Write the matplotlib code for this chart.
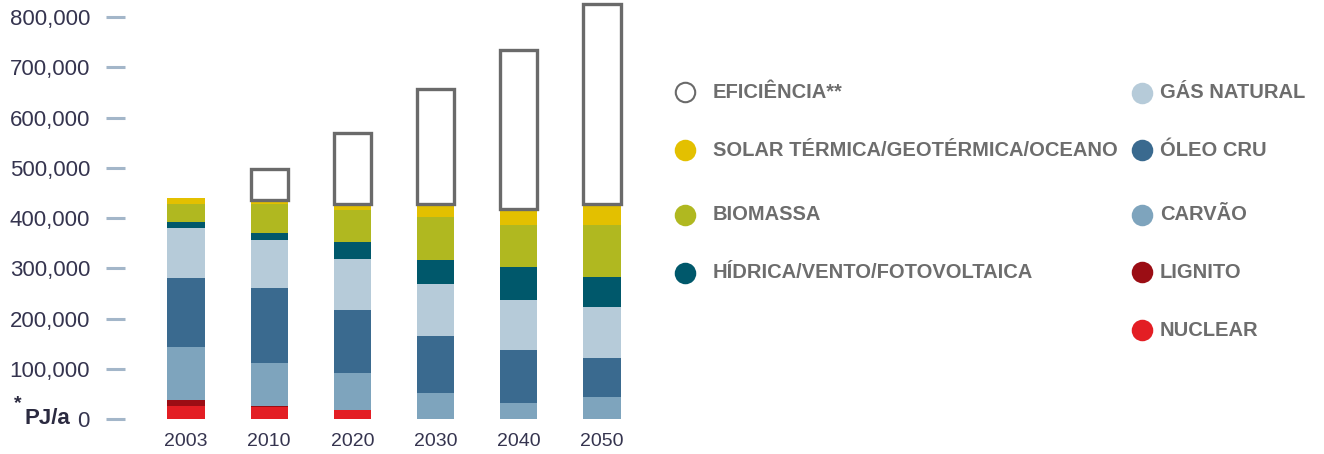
import numpy as np
import matplotlib
matplotlib.use('Agg')
import matplotlib.pyplot as plt
from matplotlib.lines import Line2D

# ── Data (PJ/a) ──────────────────────────────────────────────────────────────
years      = ['2003', '2010', '2020', '2030', '2040', '2050']
nuclear    = [26000, 24500, 18000, 0, 0, 0]
lignite    = [11000, 2000, 0, 0, 0, 0]
coal       = [107000, 85500, 73000, 52000, 31000, 43000]
oil        = [137000, 149000, 126000, 113000, 107000, 78000]
gas        = [99500, 96000, 101000, 104000, 98000, 101000]
hydro      = [11000, 14000, 34000, 48000, 66000, 60000]
biomass    = [36500, 56000, 63000, 86000, 84000, 105000]
solar      = [12000, 8000, 13000, 24000, 31000, 41000]
efficiency = [0, 63000, 142000, 229000, 317000, 399000]

yticks = [0, 100000, 200000, 300000, 400000, 500000, 600000, 700000, 800000]

STACK = [
    (nuclear, '#e31e24', 'NUCLEAR'),
    (lignite, '#9b0d14', 'LIGNITO'),
    (coal,    '#7ea4bd', 'CARVÃO'),
    (oil,     '#3a6a8f', 'ÓLEO CRU'),
    (gas,     '#b6cbd9', 'GÁS NATURAL'),
    (hydro,   '#00586b', 'HÍDRICA/VENTO/FOTOVOLTAICA'),
    (biomass, '#b0b820', 'BIOMASSA'),
    (solar,   '#e3c000', 'SOLAR TÉRMICA/GEOTÉRMICA/OCEANO'),
]

plt.rcParams['font.family'] = ['Liberation Sans', 'DejaVu Sans']

W, H = 1324, 454
fig = plt.figure(figsize=(W / 100, H / 100), dpi=100)
fig.patch.set_facecolor('white')

# axes placed in pixel terms of the reference
ax = fig.add_axes([125 / W, (H - 419) / H, (640 - 125) / W, 417 / H])
ax.set_facecolor('white')

x = np.arange(len(years))
bar_w = 0.445

# ── Bars ─────────────────────────────────────────────────────────────────────
bottom = np.zeros(len(years))
for vals, col, _ in STACK:
    v = np.array(vals, dtype=float)
    ax.bar(x, v, bar_w, bottom=bottom, color=col, linewidth=0, zorder=2)
    bottom += v

eff = np.array(efficiency, dtype=float)
mask = eff > 0
ax.bar(x[mask], eff[mask], bar_w, bottom=bottom[mask], facecolor='white',
       edgecolor='#6a6a6a', linewidth=2.4, zorder=3)

# ── Axes ─────────────────────────────────────────────────────────────────────
ax.set_xlim(-(186 - 125) / 83.2, (640 - 186) / 83.2)
ax.set_ylim(0, 830000)
for s in ax.spines.values():
    s.set_visible(False)

ax.set_yticks(yticks)
ax.set_yticklabels([f'{v:,}' for v in yticks], fontsize=16, color='#35344f')
ax.tick_params(axis='y', length=13.7, width=2.2, color='#a3b6c9',
               direction='out', pad=11.5)

ax.set_xticks(x)
ax.set_xticklabels(years, fontsize=14, color='#35344f')
ax.tick_params(axis='x', length=0, pad=10)

# "*PJ/a" unit label beside the zero tick
fig.text(70 / W, 1 - 419 / H, 'PJ/a', ha='right', va='center',
         fontsize=16, fontweight='bold', color='#2b2a40')
fig.text(14 / W, 1 - 404 / H, '*', ha='left', va='center',
         fontsize=14, fontweight='bold', color='#2b2a40')

# ── Legend ───────────────────────────────────────────────────────────────────
def legend_item(cx, tx, cy, label, face, edge):
    fig.add_artist(Line2D([cx / W], [1 - cy / H], marker='o', markersize=14,
                          markerfacecolor=face, markeredgecolor=edge,
                          markeredgewidth=1.5, linestyle='none',
                          transform=fig.transFigure))
    fig.text(tx / W, 1 - cy / H, label, ha='left', va='center',
             fontsize=14.5, fontweight='bold', color='#6d6d6d')

legend_item(685, 713, 92, 'EFICIÊNCIA**', 'white', '#6a6a6a')
col1 = [STACK[7], STACK[6], STACK[5]]
for (vals, col, lab), cy in zip(col1, [150, 215, 273]):
    legend_item(685, 713, cy, lab, col, col)

col2 = [STACK[4], STACK[3], STACK[2], STACK[1], STACK[0]]
for (vals, col, lab), cy in zip(col2, [93, 150, 215, 272, 330]):
    legend_item(1142, 1160, cy, lab, col, col)

fig.savefig('out.png', dpi=100, facecolor='white')
